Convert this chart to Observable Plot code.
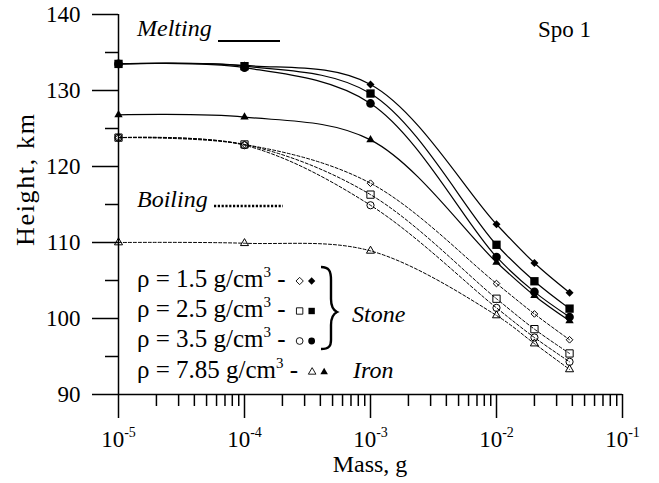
<!DOCTYPE html>
<html><head><meta charset="utf-8">
<script src="https://cdn.jsdelivr.net/npm/d3@7"></script>
<script src="https://cdn.jsdelivr.net/npm/@observablehq/plot@0.6"></script>
<style>body{margin:0;background:#fff} svg{display:block}</style>
</head><body><div id="chart"></div>
<script>
// ---- data ----
const masses = [1e-5, 1e-4, 1e-3, 1e-2, 2e-2, 3.8e-2];
const densityLabels = ["1.5", "2.5", "3.5", "7.85"];
const meltD15  = [133.5, 133.3, 130.8, 112.4, 107.3, 103.4];
const meltD25  = [133.5, 133.2, 129.6, 109.7, 104.9, 101.3];
const meltD35  = [133.5, 133.0, 128.3, 108.1, 103.5, 100.2];
const meltD785 = [126.8, 126.5, 123.5, 107.4, 103.0, 99.7];
const boilD15  = [123.8, 122.9, 117.8, 104.6, 100.6, 97.2];
const boilD25  = [123.8, 122.9, 116.3, 102.6, 98.6, 95.4];
const boilD35  = [123.8, 122.8, 114.9, 101.4, 97.5, 94.3];
const boilD785 = [110.0, 109.9, 108.9, 100.4, 96.7, 93.3];
const yMajor = [90, 100, 110, 120, 130, 140];
const yMinor = [95, 105, 115, 125, 135];
const xMajor = [1e-5, 1e-4, 1e-3, 1e-2, 1e-1];
const xMinor = [];
for (const d of [1e-5, 1e-4, 1e-3, 1e-2]) for (let k = 2; k <= 9; k++) xMinor.push(d * k);

// ---- series styling ----
const seriesDefs = [
  {key: "m15", kind: "melt", values: meltD15, symbol: "diamond2", r: 3.6},
  {key: "m25", kind: "melt", values: meltD25, symbol: "square", r: 4.7},
  {key: "m35", kind: "melt", values: meltD35, symbol: "circle", r: 4.3},
  {key: "m785", kind: "melt", values: meltD785, symbol: "triangle", r: 3.1},
  {key: "b15", kind: "boil", values: boilD15, symbol: "diamond2", r: 3.0},
  {key: "b25", kind: "boil", values: boilD25, symbol: "square", r: 4.1},
  {key: "b35", kind: "boil", values: boilD35, symbol: "circle", r: 3.6},
  {key: "b785", kind: "boil", values: boilD785, symbol: "triangle", r: 3.0}
];
const rows = [];
for (const s of seriesDefs) s.values.forEach((v, i) => rows.push({series: s.key, kind: s.kind, mass: masses[i], height: v}));

const FONT = "'Liberation Serif', 'Times New Roman', serif";
const marks = [
  Plot.ruleX([1e-5], {y1: 90, y2: 140, strokeWidth: 1.5}),
  Plot.ruleY([90], {x1: 1e-5, x2: 1e-1, strokeWidth: 1.5}),
  Plot.axisY({ticks: yMajor, tickSize: 26, tickPadding: 12, strokeWidth: 1.5, label: null, fontSize: 23, tickFormat: d => String(d)}),
  Plot.axisY({ticks: yMinor, tickSize: 13, strokeWidth: 1.5, label: null, tickFormat: () => ""}),
  Plot.axisX({ticks: xMajor, tickSize: 24, tickPadding: 12, strokeWidth: 1.5, label: null, fontSize: 23, tickFormat: d => "10|" + Math.round(Math.log10(d))}),
  Plot.axisX({ticks: xMinor, tickSize: 12, strokeWidth: 1.5, label: null, tickFormat: () => ""}),
  Plot.line(rows.filter(d => d.kind === "melt"), {x: "mass", y: "height", z: "series", curve: "catmull-rom", stroke: "black", strokeWidth: 1.2}),
  Plot.line(rows.filter(d => d.kind === "boil"), {x: "mass", y: "height", z: "series", curve: "catmull-rom", stroke: "black", strokeWidth: 1, strokeDasharray: "3,2"})
];
for (const s of seriesDefs) {
  const data = rows.filter(d => d.series === s.key);
  if (s.kind === "melt") marks.push(Plot.dot(data, {x: "mass", y: "height", symbol: s.symbol, r: s.r, fill: "black", stroke: "none"}));
  else marks.push(Plot.dot(data, {x: "mass", y: "height", symbol: s.symbol, r: s.r, fill: "none", stroke: "black", strokeWidth: 1}));
}

const svg = Plot.plot({
  width: 659, height: 483,
  marginLeft: 118, marginRight: 37, marginTop: 14, marginBottom: 89,
  x: {type: "log", domain: [1e-5, 1e-1]},
  y: {domain: [90, 140]},
  style: {fontFamily: FONT, fontSize: "23px", color: "black", background: "white"},
  marks
});
document.getElementById("chart").appendChild(svg);

const S = d3.select(svg);
// superscript tick labels
S.selectAll('g[aria-label="x-axis tick label"] text').each(function () {
  const t = this.textContent;
  if (!t.includes("|")) return;
  const [a, b] = t.split("|");
  this.textContent = "";
  const el = d3.select(this);
  el.append("tspan").text(a);
  el.append("tspan").style("font-size", "14px").attr("dy", -10).text(b);
});

// annotations
const g = S.append("g").style("font-family", FONT).style("font-size", "24px").style("text-anchor", "start").attr("fill", "black");
const txt = (x, y, s, italic) => g.append("text").attr("x", x).attr("y", y).style("font-style", italic ? "italic" : "normal").text(s);
txt(137, 36, "Melting", true);
g.append("line").attr("x1", 218).attr("x2", 280).attr("y1", 41).attr("y2", 41).attr("stroke", "black").attr("stroke-width", 1.8);
txt(137, 207, "Boiling", true);
g.append("line").attr("x1", 214).attr("x2", 283).attr("y1", 206).attr("y2", 206).attr("stroke", "black").attr("stroke-width", 2.5).attr("stroke-dasharray", "2.2,1.6");
txt(538, 37, "Spo 1", false).style("font-size", "23px");
g.append("text").attr("transform", "translate(34,180) rotate(-90)").style("text-anchor", "middle").style("font-size", "26px")
  .attr("textLength", 132).attr("lengthAdjust", "spacing").text("Height, km");
g.append("text").attr("x", 370).attr("y", 472).style("text-anchor", "middle").text("Mass, g");

const legendBaselines = [287, 317, 347, 378];
const legendSymbols = [["diamond2", 3.3], ["square", 3.6], ["circle", 3.4], ["triangle", 2.8]];
const symMap = {diamond2: d3.symbolDiamond2, square: d3.symbolSquare, circle: d3.symbolCircle, triangle: d3.symbolTriangle};
densityLabels.forEach((lab, i) => {
  const y = legendBaselines[i];
  const t = g.append("text").attr("x", 137).attr("y", y).style("font-size", "25px");
  t.append("tspan").text("ρ = " + lab + " g/cm");
  t.append("tspan").style("font-size", "15px").attr("dy", -10).text("3");
  t.append("tspan").attr("dy", 10).text(" -");
  const end = 137 + t.node().getComputedTextLength();
  const [sym, r] = legendSymbols[i];
  const xo = end + 14, xf = end + 26;
  const path = d3.symbol(symMap[sym], Math.PI * r * r)();
  g.append("path").attr("d", path).attr("transform", `translate(${xo},${y - 6})`).attr("fill", "none").attr("stroke", "black").attr("stroke-width", 0.9);
  g.append("path").attr("d", path).attr("transform", `translate(${xf},${y - 6})`).attr("fill", "black");
});
g.append("path").attr("d", "M321,267 C329,267 331,271 331,280 L331,299 C331,306 333,310 337,312 C333,314 331,318 331,325 L331,340 C331,346 329,349 321,349")
  .attr("fill", "none").attr("stroke", "black").attr("stroke-width", 2.4);
txt(352, 322, "Stone", true);
txt(353, 378, "Iron", true);
</script>
</body></html>
